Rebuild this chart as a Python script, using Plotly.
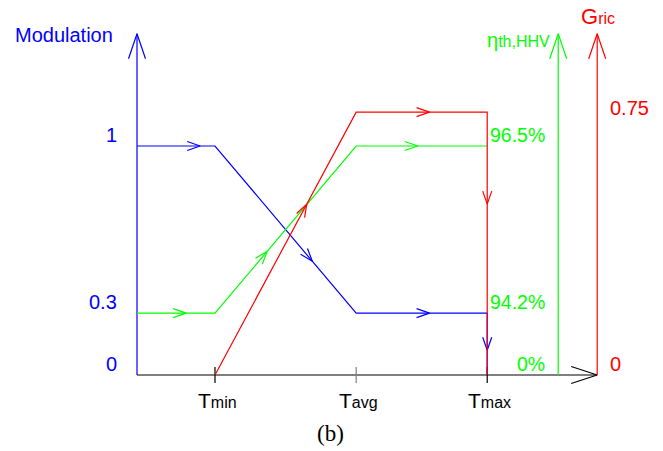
import math
import plotly.graph_objects as go

# ---------------- data (schematic units) ----------------
T_labels = ["T<span style='font-size:16px'>min</span>",
            "T<span style='font-size:16px'>avg</span>",
            "T<span style='font-size:16px'>max</span>"]
T_pos = [1.0, 2.81, 4.49]          # Tmin, Tavg, Tmax on the x axis
T_tick_colors = ["#000000", "#7f7f7f", "#000000"]

mod_high = 1.0                      # modulation 1   / efficiency 96.5%
mod_low = 0.27                      # modulation 0.3 / efficiency 94.2%
gric_high = 1.148                   # Gric 0.75

blue_x = [0, T_pos[0], T_pos[1], T_pos[2], T_pos[2]]
blue_y = [mod_high, mod_high, mod_low, mod_low, 0]
green_x = [0, T_pos[0], T_pos[1], T_pos[2]]
green_y = [mod_low, mod_low, mod_high, mod_high]
red_x = [T_pos[0], T_pos[1], T_pos[2], T_pos[2]]
red_y = [0, gric_high, gric_high, 0]

# arrow positions (fraction along each segment)
blue_arrow_frac = [0.81, 0.69, 0.56, 0.6]
green_arrow_frac = [0.63, 0.37, 0.47]
red_arrow_frac = [0.65, 0.56, 0.35]

axis_top = 1.49
green_axis_x = 5.40
red_axis_x = 5.90

left_labels = ["1", "0.3", "0"]
left_label_y = [mod_high, mod_low, 0]
green_labels = ["96.5%", "94.2%", "0%"]
green_label_y = [mod_high, mod_low, 0]
red_labels = ["0.75", "0"]
red_label_y = [1.118, 0]

BLUE = "#0000ff"
GREEN = "#00ff00"
RED = "#ff0000"
FONT = "Arial, Liberation Sans, sans-serif"

# ---------------- scale helpers ----------------
W, H = 663, 451
X0, XS = 137.0, 78.0
Y0, YS = 375.0, 229.0
xrange_ = [(0 - X0) / XS, (W - X0) / XS]
yrange_ = [(Y0 - H) / YS, Y0 / YS]


def to_px(x, y):
    return X0 + x * XS, Y0 - y * YS


def to_data(px, py):
    return (px - X0) / XS, (Y0 - py) / YS


def head(x1, y1, x2, y2, f, L, Wd):
    p1 = to_px(x1, y1)
    p2 = to_px(x2, y2)
    tx = p1[0] + (p2[0] - p1[0]) * f
    ty = p1[1] + (p2[1] - p1[1]) * f
    dx, dy = p2[0] - p1[0], p2[1] - p1[1]
    n = math.hypot(dx, dy)
    ux, uy = dx / n, dy / n
    nx, ny = -uy, ux
    a = to_data(tx - L * ux + Wd * nx, ty - L * uy + Wd * ny)
    b = to_data(tx, ty)
    c = to_data(tx - L * ux - Wd * nx, ty - L * uy - Wd * ny)
    return [a[0], b[0], c[0], None], [a[1], b[1], c[1], None]


def path_heads(xs, ys, fracs, L=13, Wd=4.5):
    hx, hy = [], []
    for i, f in enumerate(fracs):
        ax, ay = head(xs[i], ys[i], xs[i + 1], ys[i + 1], f, L, Wd)
        hx += ax
        hy += ay
    return hx, hy


fig = go.Figure()


def add_line(xs, ys, color, width=1.2):
    fig.add_trace(go.Scatter(x=xs, y=ys, mode="lines",
                             line=dict(color=color, width=width),
                             hoverinfo="skip", showlegend=False))


# axes
add_line([0, red_axis_x], [0, 0], "#000000")
ax_, ay_ = head(0, 0, red_axis_x, 0, 1.0, 26, 8.5)
add_line(ax_, ay_, "#000000")
for xt, col in zip(T_pos, T_tick_colors):
    add_line([xt, xt], [8 / YS, -8 / YS], col)

add_line([0, 0], [0, axis_top], BLUE)
ax_, ay_ = head(0, 0, 0, axis_top, 1.0, 25, 8.5)
add_line(ax_, ay_, BLUE)

add_line([green_axis_x, green_axis_x], [0, axis_top], GREEN)
ax_, ay_ = head(green_axis_x, 0, green_axis_x, axis_top, 1.0, 25, 8.5)
add_line(ax_, ay_, GREEN)

add_line([red_axis_x, red_axis_x], [0, axis_top], RED)
ax_, ay_ = head(red_axis_x, 0, red_axis_x, axis_top, 1.0, 25, 8.5)
add_line(ax_, ay_, RED)

# series
add_line(blue_x, blue_y, BLUE)
hx, hy = path_heads(blue_x, blue_y, blue_arrow_frac)
add_line(hx, hy, BLUE)

add_line(green_x, green_y, GREEN)
hx, hy = path_heads(green_x, green_y, green_arrow_frac)
add_line(hx, hy, GREEN)

add_line(red_x, red_y, RED)
hx, hy = path_heads(red_x, red_y, red_arrow_frac)
add_line(hx, hy, RED)

# ---------------- text ----------------
ann = []


def txt(x, y, text, color, size=19, xanchor="center", yanchor="middle", family=FONT):
    ann.append(dict(x=x, y=y, xref="x", yref="y", text=text, showarrow=False,
                    xanchor=xanchor, yanchor=yanchor,
                    font=dict(family=family, size=size, color=color)))


px2x = lambda p: (p - X0) / XS
py2y = lambda p: (Y0 - p) / YS

txt(px2x(63.5), py2y(35), "Modulation", BLUE, 20)
for lab, yv in zip(left_labels, left_label_y):
    txt(px2x(119), yv + 11 / YS, lab, BLUE, 20, xanchor="right")
for lab, yv in zip(green_labels, green_label_y):
    txt(px2x(547), yv + 11 / YS, lab, GREEN, 19.5, xanchor="right")
for lab, yv in zip(red_labels, red_label_y):
    txt(px2x(608), yv + 11 / YS, lab, RED, 20, xanchor="left")
txt(px2x(552), py2y(40), "η<span style='font-size:16px'>th,HHV</span>", GREEN, 20, xanchor="right")
txt(px2x(579), py2y(16), "G<span style='font-size:16px'>ric</span>", RED, 22, xanchor="left")
for lab, xt in zip(T_labels, T_pos):
    txt(xt + 2 / XS, py2y(400), lab, "#000000", 21)
txt(px2x(330), py2y(433), "(b)", "#000000", 23, family="Times New Roman, Liberation Serif, serif")

fig.update_layout(
    width=W, height=H,
    margin=dict(l=0, r=0, t=0, b=0),
    paper_bgcolor="white", plot_bgcolor="white",
    xaxis=dict(range=xrange_, visible=False, fixedrange=True),
    yaxis=dict(range=yrange_, visible=False, fixedrange=True),
    annotations=ann,
    showlegend=False,
)

fig.write_html("out.html")
